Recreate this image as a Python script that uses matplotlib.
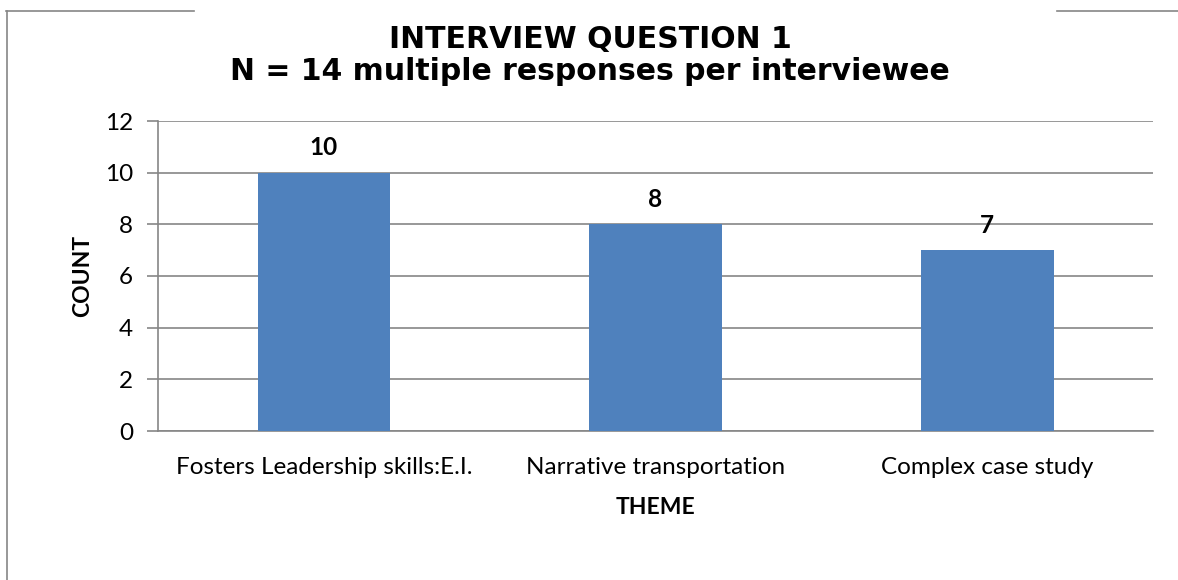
import matplotlib
matplotlib.use("Agg")
import matplotlib.pyplot as plt
from matplotlib.lines import Line2D

categories = ["Fosters Leadership skills:E.I.", "Narrative transportation", "Complex case study"]
counts = [10, 8, 7]
yticks = [0, 2, 4, 6, 8, 10, 12]
title_lines = ["INTERVIEW QUESTION 1", "N = 14 multiple responses per interviewee"]

W, H = 1178, 580
fig = plt.figure(figsize=(W / 100, H / 100), dpi=100)
ax = fig.add_axes([158 / W, 1 - 431 / H, (1153 - 158) / W, (431 - 121) / H])

bar_color = "#4F81BD"
grid_color = "#868686"
sans = ["Lato", "DejaVu Sans"]
fs = 17.5

x = list(range(len(categories)))
ax.bar(x, counts, width=0.4, color=bar_color, zorder=3)
ax.set_xlim(-0.5, len(categories) - 0.5)
ax.set_ylim(0, 12)
ax.set_yticks(yticks)
ax.set_yticklabels([str(t) for t in yticks], fontsize=fs, family=sans)
ax.set_xticks(x)
ax.set_xticklabels(categories, fontsize=fs, family=sans)
ax.tick_params(axis="x", length=0, pad=19)
ax.tick_params(axis="y", length=8, width=1.2, color=grid_color, pad=10)
ax.yaxis.grid(True, color=grid_color, linewidth=1.2, zorder=0)
for s in ["top", "right"]:
    ax.spines[s].set_visible(False)
for s in ["left", "bottom"]:
    ax.spines[s].set_color(grid_color)
    ax.spines[s].set_linewidth(1.2)

for xi, v in zip(x, counts):
    ax.annotate(str(v), (xi, v), xytext=(0, 18), textcoords="offset points",
                ha="center", va="center", fontsize=fs, fontweight="bold", family=sans)

ax.set_ylabel("COUNT", fontsize=16.5, fontweight="bold", family=sans)
ax.yaxis.set_label_coords((83 - 158) / (1153 - 158), 0.5)
ax.set_xlabel("THEME", fontsize=16.5, fontweight="bold", family=sans)
ax.xaxis.set_label_coords(0.5, -(507 - 431) / (431 - 121))
ax.xaxis.label.set_va("center")
ax.yaxis.label.set_va("center")

tfont = ["DejaVu Sans"]
fig.text(590 / W, 1 - 48 / H, title_lines[0], ha="center", va="baseline", fontsize=21.5,
         fontweight="bold", family=tfont)
fig.text(590 / W, 1 - 80 / H, title_lines[1], ha="center", va="baseline", fontsize=21.5,
         fontweight="bold", family=tfont)

# chart frame (partially hidden)
fig.add_artist(Line2D([6 / W, 194 / W], [1 - 11 / H, 1 - 11 / H], color=grid_color, linewidth=1.2))
fig.add_artist(Line2D([1057 / W, 1.0], [1 - 11 / H, 1 - 11 / H], color=grid_color, linewidth=1.2))
fig.add_artist(Line2D([7 / W, 7 / W], [1 - 11 / H, 0.0], color=grid_color, linewidth=1.2))

fig.savefig("out.png", dpi=100)
